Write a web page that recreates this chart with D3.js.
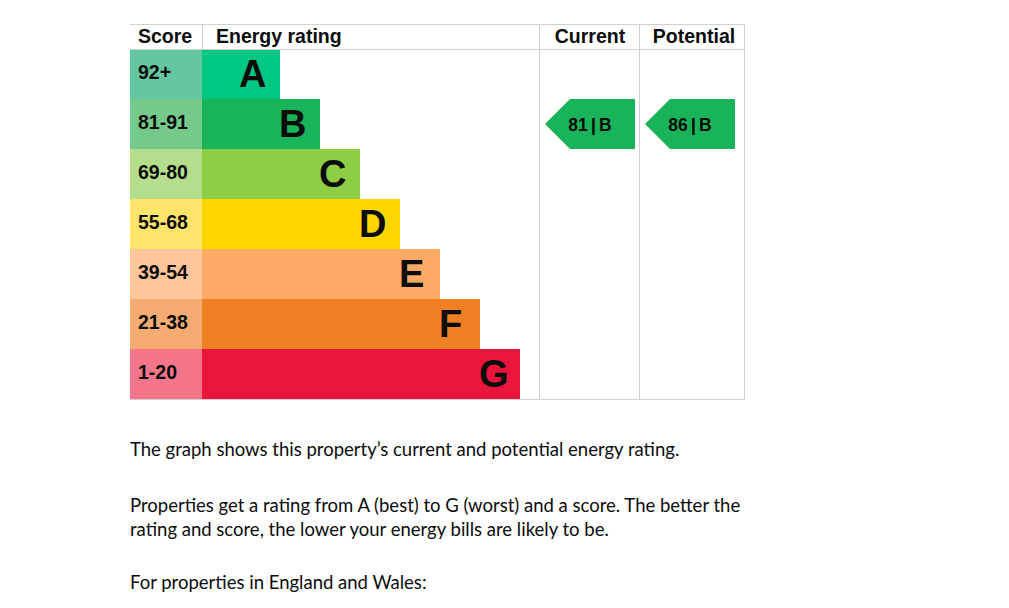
<!DOCTYPE html>
<html>
<head>
<meta charset="utf-8">
<script src="https://cdn.jsdelivr.net/npm/d3@7"></script>
<style>
  body { margin: 0; background: #fff; }
  svg { display: block; }
</style>
</head>
<body>
<div id="container"></div>
<script>
/* DATA */
const bands = ["A", "B", "C", "D", "E", "F", "G"];
const scoreRanges = ["92+", "81-91", "69-80", "55-68", "39-54", "21-38", "1-20"];
const bandColors = ["#00c781", "#19b459", "#8dce46", "#ffd500", "#fcaa65", "#ef8023", "#e9153b"];
const scoreColors = ["#64c7a2", "#74c98b", "#b4de8b", "#ffe46b", "#ffc59b", "#f5ab72", "#f37589"];
const columns = ["Current", "Potential"];
const ratings = [81, 86];
const ratingBands = ["B", "B"];
const paragraphs = [
  ["The graph shows this property\u2019s current and potential energy rating."],
  ["Properties get a rating from A (best) to G (worst) and a score. The better the",
   "rating and score, the lower your energy bills are likely to be."],
  ["For properties in England and Wales:"]
];

/* CONSTANTS */
const width = 1009, height = 608;
const chartLeft = 130, chartRight = 745, chartTop = 24, headH = 25, chartBottom = 399;
const scoreW = 72;
const labelFont = "'Liberation Sans', Arial, sans-serif";
const gridColor = "#d0d0d0";

const svg = d3.select("#container")
  .append("svg")
  .attr("width", width)
  .attr("height", height);

// SCALES
const y = d3.scaleBand().domain(bands).range([chartTop + headH, chartBottom]);
const barEnd = d3.scaleLinear().domain([0, bands.length - 1]).range([280, 520]);
const colX = d3.scaleBand().domain(columns).range([540, 740]);

// SCORE CELLS
svg.selectAll(".score-cell")
  .data(bands)
  .join("rect")
  .attr("x", chartLeft)
  .attr("y", d => y(d))
  .attr("width", scoreW)
  .attr("height", y.bandwidth())
  .attr("fill", (d, i) => scoreColors[i]);

svg.selectAll(".score-label")
  .data(scoreRanges)
  .join("text")
  .attr("x", chartLeft + 8)
  .attr("y", (d, i) => y(bands[i]) + y.bandwidth() / 2 + 4.5)
  .attr("font-family", labelFont)
  .attr("font-weight", "bold")
  .attr("font-size", 19.5)
  .attr("fill", "#0b0c0c")
  .text(d => d);

// BARS
svg.selectAll(".bar")
  .data(bands)
  .join("rect")
  .attr("x", chartLeft + scoreW)
  .attr("y", d => y(d))
  .attr("width", (d, i) => barEnd(i) - chartLeft - scoreW)
  .attr("height", y.bandwidth())
  .attr("fill", (d, i) => bandColors[i]);

svg.selectAll(".bar-label")
  .data(bands)
  .join("text")
  .attr("x", (d, i) => barEnd(i) - 41)
  .attr("y", d => y(d) + y.bandwidth() / 2 + 13)
  .attr("font-family", labelFont)
  .attr("font-weight", "bold")
  .attr("font-size", 38)
  .attr("fill", "#0b0c0c")
  .text(d => d);

// GRID LINES
const hLines = [chartTop, chartTop + headH, chartBottom];
svg.selectAll(".hline")
  .data(hLines)
  .join("line")
  .attr("x1", chartLeft).attr("x2", chartRight)
  .attr("y1", d => d + 0.5).attr("y2", d => d + 0.5)
  .attr("stroke", gridColor);

svg.append("line")
  .attr("x1", chartLeft + scoreW + 0.5).attr("x2", chartLeft + scoreW + 0.5)
  .attr("y1", chartTop).attr("y2", chartTop + headH)
  .attr("stroke", gridColor);

svg.selectAll(".vline")
  .data([540, 640, chartRight])
  .join("line")
  .attr("x1", d => d - 0.5).attr("x2", d => d - 0.5)
  .attr("y1", chartTop).attr("y2", chartBottom + 1)
  .attr("stroke", gridColor);

// HEADERS
const heads = [
  { t: "Score", x: chartLeft + 8, a: "start" },
  { t: "Energy rating", x: chartLeft + scoreW + 14, a: "start" },
  { t: columns[0], x: colX(columns[0]) + colX.bandwidth() / 2, a: "middle" },
  { t: columns[1], x: colX(columns[1]) + colX.bandwidth() / 2 + 4, a: "middle" }
];
svg.selectAll(".head")
  .data(heads)
  .join("text")
  .attr("x", d => d.x)
  .attr("y", chartTop + 19)
  .attr("text-anchor", d => d.a)
  .attr("font-family", labelFont)
  .attr("font-weight", "bold")
  .attr("font-size", 19.5)
  .attr("fill", "#0b0c0c")
  .text(d => d.t);

// RATING ARROWS
const arrows = columns.map((c, i) => ({ col: c, score: ratings[i], band: ratingBands[i] }));
const ah = y.bandwidth();
const arrowG = svg.selectAll(".arrow")
  .data(arrows)
  .join("g")
  .attr("transform", d => `translate(${colX(d.col) + 5}, ${y(d.band)})`);

arrowG.append("path")
  .attr("d", `M0,${ah / 2} L${ah / 2},0 L90,0 L90,${ah} L${ah / 2},${ah} Z`)
  .attr("fill", (d) => bandColors[bands.indexOf(d.band)]);

const arrowText = arrowG.append("text")
  .attr("x", 45)
  .attr("y", ah / 2 + 6.5)
  .attr("text-anchor", "middle")
  .attr("font-family", labelFont)
  .attr("font-weight", "bold")
  .attr("font-size", 17.5)
  .attr("fill", "#0b0c0c");
arrowText.append("tspan").text(d => d.score);
arrowText.append("tspan").attr("dx", 3).attr("font-size", 19).text("|");
arrowText.append("tspan").attr("dx", 3).text(d => d.band);

// PARAGRAPHS
const lineY = [[456], [512, 536], [589]];
paragraphs.forEach((p, i) => {
  p.forEach((line, j) => {
    svg.append("text")
      .attr("x", chartLeft)
      .attr("y", lineY[i][j])
      .attr("font-family", "Lato, 'Noto Sans', sans-serif")
      .attr("font-size", 18.5)
      .attr("fill", "#0b0c0c")
      .text(line);
  });
});
</script>
</body>
</html>
